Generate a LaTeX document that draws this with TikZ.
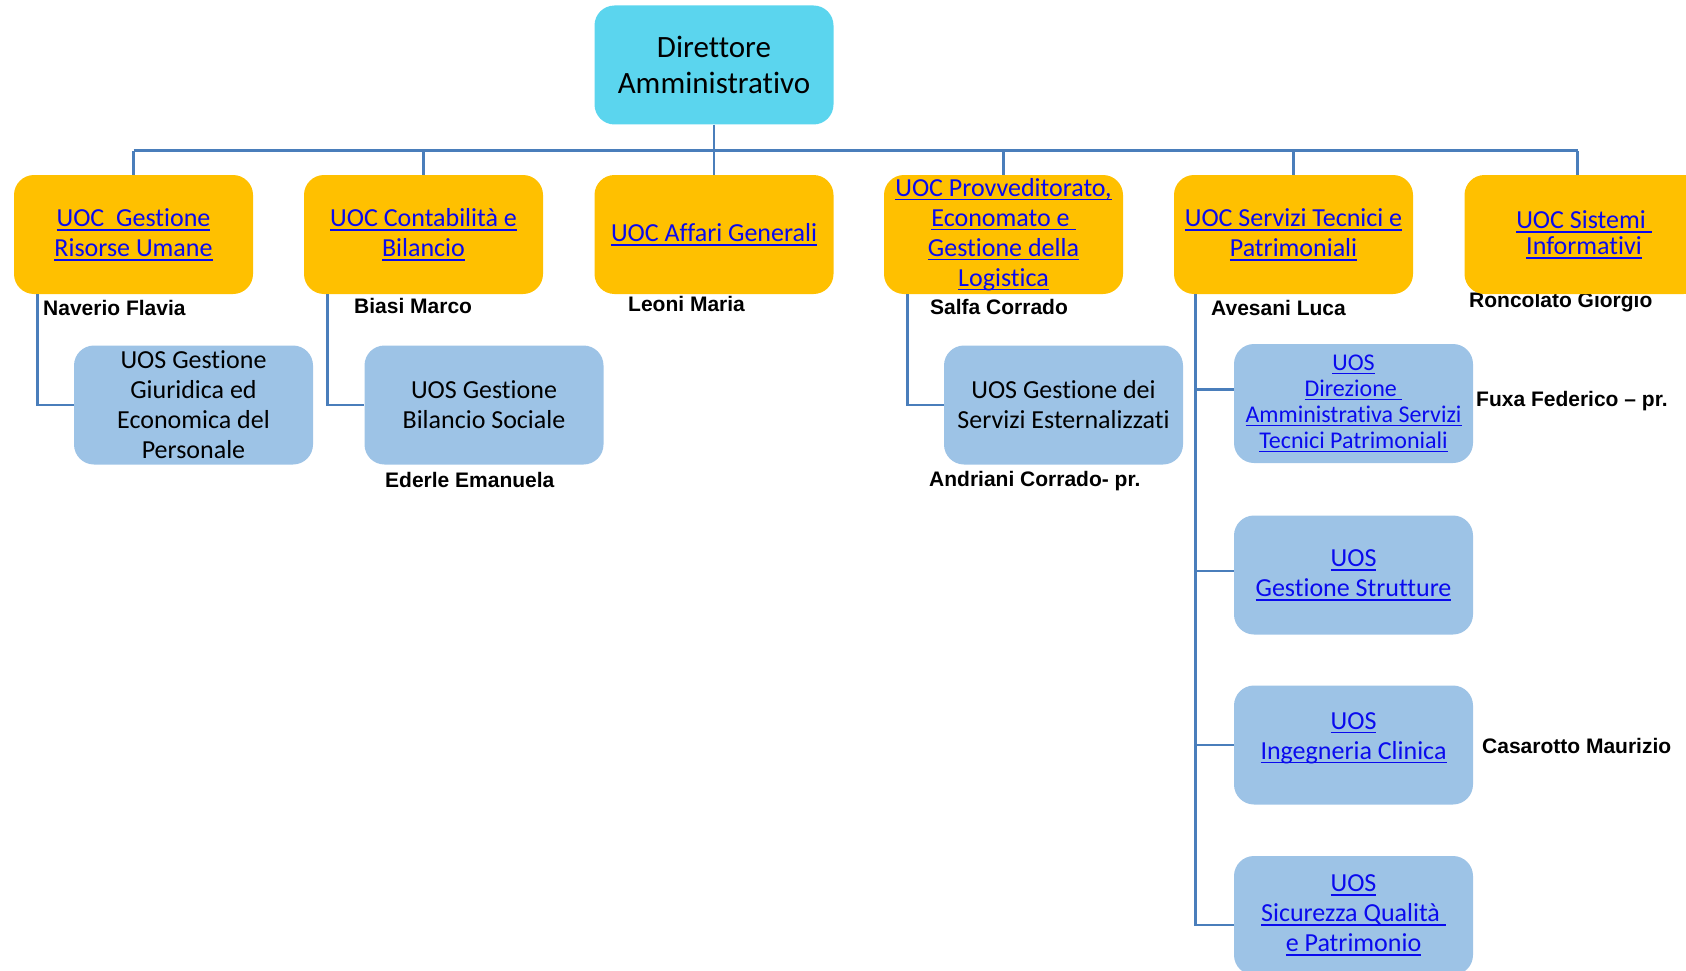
\documentclass[tikz,border=0pt]{standalone}
\usepackage{fontspec}
\setmainfont{Carlito}[Ligatures=NoCommon]
\newfontfamily\namefont{Liberation Sans}
\usetikzlibrary{calc}
\definecolor{dircol}{HTML}{5BD5EE}
\definecolor{uoccol}{HTML}{FFC000}
\definecolor{uoscol}{HTML}{9DC3E6}
\definecolor{linecol}{HTML}{4A7EBB}
\definecolor{linkcol}{HTML}{0A0AEE}
\newsavebox\lkbox
\newcommand\lk[1]{{\color{linkcol}\sbox\lkbox{#1}\rlap{\rule[-4.2pt]{\wd\lkbox}{1.7pt}}\usebox\lkbox}}
\tikzset{
  orgbox/.style={rounded corners=20pt, minimum width=239pt, minimum height=119pt,
    align=center, inner sep=0pt, font=\fontsize{26}{30}\selectfont},
  dirbox/.style={orgbox, fill=dircol, font=\fontsize{31}{36}\selectfont},
  uocbox/.style={orgbox, fill=uoccol},
  uosbox/.style={orgbox, fill=uoscol},
  boxtext/.style={align=center, inner sep=0pt, font=\fontsize{26}{30}\selectfont},
  person/.style={anchor=base west, inner sep=0pt, font=\namefont\bfseries\fontsize{21}{25}\selectfont},
  conn/.style={draw=linecol, line width=2.7pt},
  busline/.style={draw=linecol, line width=3.2pt}
}
\begin{document}
\begin{tikzpicture}[x=1pt,y=-1pt]
\useasboundingbox (0,0) rectangle (1686,971);
\clip (0,0) rectangle (1686,971);

% names under/near boxes
\node[person] (n1) at (43,315) {Naverio Flavia};
\node[person] (n2) at (354,313) {Biasi Marco};
\node[person] (n3) at (628,311) {Leoni Maria};
\node[person] (n4) at (930,314) {Salfa Corrado};
\node[person] (n5) at (1211,315) {Avesani Luca};
\node[person] (n6) at (1469,307) {Roncolato Giorgio};
\node[person] (n7) at (385,487) {Ederle Emanuela};
\node[person] (n8) at (929,486) {Andriani Corrado- pr.};
\node[person] (n9) at (1476,406) {Fuxa Federico – pr.};
\node[person] (n10) at (1482,753) {Casarotto Maurizio};

% top
\node[dirbox] (dir) at (714,65) {Direttore\\Amministrativo};

% UOC row
\node[uocbox] (u1) at (133.5,234.5) {\lk{UOC\kern0.23em{} Gestione}\\\lk{Risorse Umane}};
\node[uocbox] (u2) at (423.5,234.5) {\lk{UOC Contabilità e}\\\lk{Bilancio}};
\node[uocbox] (u3) at (714,234.5) {\lk{UOC Affari Generali}};
\node[uocbox] (u4) at (1003.5,234.5) {\lk{UOC Provveditorato,}\\\lk{Economato e\kern0.23em}\\\lk{Gestione della}\\\lk{Logistica}};
\node[uocbox] (u5) at (1293.5,234.5) {\lk{UOC Servizi Tecnici e}\\\lk{Patrimoniali}};
\node[uocbox, font=\fontsize{26}{26}\selectfont] (u6) at (1584,234.5) {\lk{UOC Sistemi\kern0.23em}\\\lk{Informativi}};

% UOS boxes
\node[uosbox] (s1) at (193.5,405) {UOS Gestione\\Giuridica ed\\Economica del\\Personale};
\node[uosbox] (s2) at (484,405) {UOS Gestione\\Bilancio Sociale};
\node[uosbox] (s4) at (1063.5,405) {UOS Gestione dei\\Servizi Esternalizzati};
\node[uosbox, font=\fontsize{24}{26}\selectfont] (s5) at (1353.5,403.5) {\lk{UOS}\\\lk{Direzione\kern0.23em}\\\lk{Amministrativa Servizi}\\\lk{Tecnici Patrimoniali}};
\node[uosbox] (s6) at (1353.5,575) {\lk{UOS}\\\lk{Gestione Strutture}};
\node[uosbox] (s7) at (1353.5,745) {};
\node[boxtext] (s7t) at (1353.5,738) {\lk{UOS}\\\lk{Ingegneria Clinica}};
\node[uosbox] (s8) at (1353.5,915.5) {\lk{UOS}\\\lk{Sicurezza Qualità\kern0.23em}\\\lk{e Patrimonio}};

% connectors
\coordinate (bus) at (0,150.5);
\coordinate (c6) at ([xshift=-6.5pt]u6.north);
\draw[busline] (u1.north |- bus) -- (c6 |- bus);
\draw[conn] (dir.south) -- (dir.south |- bus);
\draw[conn] (u1.north) -- (u1.north |- bus);
\draw[conn] (u2.north) -- (u2.north |- bus);
\draw[conn] (u3.north) -- (u3.north |- bus);
\draw[conn] (u4.north) -- (u4.north |- bus);
\draw[conn] (u5.north) -- (u5.north |- bus);
\draw[conn] (c6) -- (c6 |- bus);

\draw[conn] ([xshift=24pt]u1.south west) |- (s1.west);
\draw[conn] ([xshift=24pt]u2.south west) |- (s2.west);
\draw[conn] ([xshift=24pt]u4.south west) |- (s4.west);

\coordinate (tr) at ([xshift=22pt]u5.south west);
\coordinate (b8) at ([yshift=-9.5pt]s8.west);
\draw[conn] (tr) |- (b8);
\coordinate (b5) at ([yshift=14pt]s5.west);
\draw[conn] (b5) -- (b5 -| tr);
\coordinate (b6) at ([yshift=4pt]s6.west);
\draw[conn] (b6) -- (b6 -| tr);
\draw[conn] (s7.west) -- (s7.west -| tr);
\end{tikzpicture}
\end{document}
